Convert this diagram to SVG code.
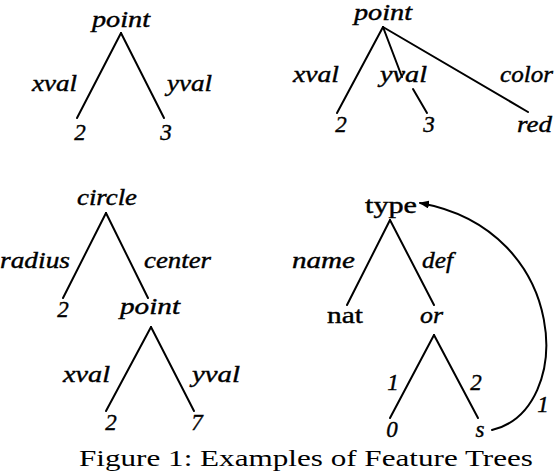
<svg xmlns="http://www.w3.org/2000/svg" width="556" height="472" viewBox="0 0 556 472">
<style>
text{font-family:"Liberation Serif","DejaVu Serif",serif;font-size:23px;fill:#000;stroke:#000;stroke-width:0.4}
.i{font-style:italic}
.m{text-anchor:middle}
.e{stroke:#000;stroke-width:2;fill:none;stroke-linecap:round}
.cap{font-size:24px;stroke:none}
</style>
<defs>
<marker id="ah" markerWidth="10" markerHeight="8" refX="9" refY="4" orient="auto" markerUnits="userSpaceOnUse">
<path d="M0,0 L10,4 L0,8 Z" fill="#000"/>
</marker>
</defs>
<rect width="556" height="472" fill="#fff"/>
<g id="connectors">
<line class="e" x1="121" y1="33" x2="77" y2="118"/>
<line class="e" x1="121" y1="33" x2="164" y2="118"/>
<line class="e" x1="383" y1="27" x2="337" y2="113"/>
<line class="e" x1="383" y1="27" x2="402" y2="77"/>
<line class="e" x1="413" y1="89" x2="427" y2="113"/>
<line class="e" x1="383" y1="27" x2="528" y2="112"/>
<line class="e" x1="106" y1="213" x2="63" y2="298"/>
<line class="e" x1="106" y1="213" x2="148" y2="298"/>
<line class="e" x1="151" y1="327" x2="106" y2="411"/>
<line class="e" x1="151" y1="327" x2="194" y2="411"/>
<line class="e" x1="390" y1="220" x2="347" y2="305"/>
<line class="e" x1="390" y1="220" x2="434" y2="305"/>
<line class="e" x1="434" y1="335" x2="390" y2="418"/>
<line class="e" x1="434" y1="335" x2="478" y2="418"/>
<path class="e" d="M492,430 C576,410 570,230 420,203" marker-end="url(#ah)"/>
<text class="i" x="32" y="91" textLength="45" lengthAdjust="spacingAndGlyphs">xval</text>
<text class="i" x="167" y="91" textLength="45" lengthAdjust="spacingAndGlyphs">yval</text>
<text class="i" x="293" y="82" textLength="46" lengthAdjust="spacingAndGlyphs">xval</text>
<text class="i" x="380" y="82" textLength="47" lengthAdjust="spacingAndGlyphs">yval</text>
<text class="i" x="500" y="82" textLength="53" lengthAdjust="spacingAndGlyphs">color</text>
<text class="i" x="0" y="268" textLength="70" lengthAdjust="spacingAndGlyphs">radius</text>
<text class="i" x="144" y="268" textLength="67" lengthAdjust="spacingAndGlyphs">center</text>
<text class="i" x="63" y="382" textLength="47" lengthAdjust="spacingAndGlyphs">xval</text>
<text class="i" x="192" y="382" textLength="48" lengthAdjust="spacingAndGlyphs">yval</text>
<text class="i" x="292" y="268" textLength="63" lengthAdjust="spacingAndGlyphs">name</text>
<text class="i" x="422" y="268" textLength="31" lengthAdjust="spacingAndGlyphs">def</text>
<text class="i m" x="393" y="390">1</text>
<text class="i m" x="476" y="390">2</text>
<text class="i m" x="543" y="412">1</text>
</g>
<g id="t1-point"><text class="i" x="92" y="27" textLength="58" lengthAdjust="spacingAndGlyphs">point</text></g>
<g id="t1-2"><text class="i m" x="80" y="140">2</text></g>
<g id="t1-3"><text class="i m" x="166" y="140">3</text></g>
<g id="t2-point"><text class="i" x="354" y="20" textLength="58" lengthAdjust="spacingAndGlyphs">point</text></g>
<g id="t2-2"><text class="i m" x="341" y="132">2</text></g>
<g id="t2-3"><text class="i m" x="429" y="132">3</text></g>
<g id="t2-red"><text class="i" x="517" y="132" textLength="35" lengthAdjust="spacingAndGlyphs">red</text></g>
<g id="t3-circle"><text class="i" x="77" y="205" textLength="60" lengthAdjust="spacingAndGlyphs">circle</text></g>
<g id="t3-2"><text class="i m" x="63" y="317">2</text></g>
<g id="t3-point"><text class="i" x="120" y="314" textLength="60" lengthAdjust="spacingAndGlyphs">point</text></g>
<g id="t3-2b"><text class="i m" x="111" y="430">2</text></g>
<g id="t3-7"><text class="i m" x="197" y="430">7</text></g>
<g id="t4-type"><text x="365" y="213" textLength="52" lengthAdjust="spacingAndGlyphs">type</text></g>
<g id="t4-nat"><text x="327" y="323" textLength="36" lengthAdjust="spacingAndGlyphs">nat</text></g>
<g id="t4-or"><text class="i" x="420" y="323" textLength="23" lengthAdjust="spacingAndGlyphs">or</text></g>
<g id="t4-0"><text class="i m" x="392" y="437">0</text></g>
<g id="t4-s"><text class="i m" x="480" y="437">s</text></g>
<g id="caption"><text class="cap" x="79" y="466" textLength="454" lengthAdjust="spacingAndGlyphs">Figure 1: Examples of Feature Trees</text></g>
</svg>
